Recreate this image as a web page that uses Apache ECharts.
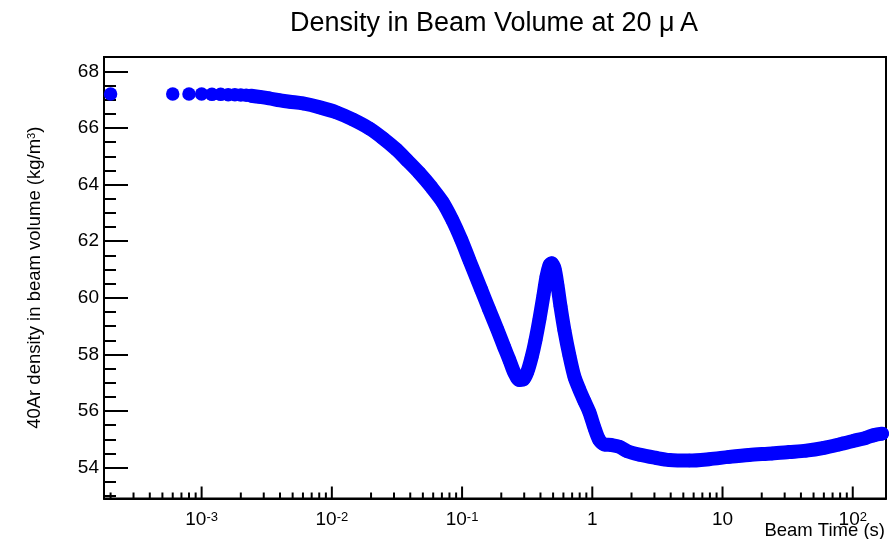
<!DOCTYPE html>
<html><head><meta charset="utf-8">
<script src="https://cdn.jsdelivr.net/npm/echarts@6/dist/echarts.min.js"></script>
<style>html,body{margin:0;padding:0;background:#fff}#c{width:894px;height:539px}</style>
</head><body><div id="c"></div>
<script>
// Beam time (s) and 40Ar density (kg/m^3)
const timeS = [2e-4, 6e-4, 8e-4, 1e-3, 1.2e-3, 1.4e-3, 1.6e-3, 1.8e-3, 2e-3, 2.2e-3, 2.4e-3, 2.8e-3, 3.3e-3, 4e-3, 4.75e-3, 6e-3, 8.1e-3, 0.0109, 0.0145, 0.0195, 0.0245, 0.0313, 0.038, 0.047, 0.0584, 0.071, 0.0842, 0.0986, 0.114, 0.14, 0.161, 0.187, 0.211, 0.231, 0.252, 0.276, 0.296, 0.318, 0.342, 0.366, 0.393, 0.422, 0.445, 0.469, 0.486, 0.512, 0.54, 0.57, 0.611, 0.668, 0.73, 0.797, 0.87, 0.951, 1.04, 1.13, 1.24, 1.4, 1.61, 1.86, 2.3, 3.05, 3.9, 5.56, 7.91, 11.2, 16, 24, 32.5, 43.8, 60.2, 78.5, 102, 127, 146, 168];
const density = [67.2, 67.2, 67.2, 67.2, 67.19, 67.19, 67.18, 67.18, 67.17, 67.16, 67.14, 67.1, 67.05, 66.98, 66.93, 66.87, 66.73, 66.55, 66.3, 65.98, 65.65, 65.24, 64.85, 64.41, 63.9, 63.38, 62.75, 62.05, 61.32, 60.3, 59.6, 58.87, 58.25, 57.8, 57.35, 57.1, 57.12, 57.4, 57.9, 58.5, 59.25, 60.1, 60.75, 61.15, 61.22, 61.05, 60.45, 59.7, 58.85, 57.95, 57.2, 56.75, 56.35, 55.95, 55.4, 54.98, 54.82, 54.8, 54.74, 54.58, 54.46, 54.35, 54.27, 54.25, 54.3, 54.38, 54.45, 54.5, 54.55, 54.6, 54.7, 54.82, 54.95, 55.06, 55.15, 55.2];

// axis ranges and ticks
const xRange = [1.78e-4, 180];
const yRange = [52.91, 68.51];
const xMajorTicks = [1e-3, 1e-2, 1e-1, 1, 10, 100];
const xMinorTicks = [2e-4, 3e-4, 4e-4, 5e-4, 6e-4, 7e-4, 8e-4, 9e-4,
  2e-3, 3e-3, 4e-3, 5e-3, 6e-3, 7e-3, 8e-3, 9e-3,
  0.02, 0.03, 0.04, 0.05, 0.06, 0.07, 0.08, 0.09,
  0.2, 0.3, 0.4, 0.5, 0.6, 0.7, 0.8, 0.9,
  2, 3, 4, 5, 6, 7, 8, 9,
  20, 30, 40, 50, 60, 70, 80, 90];
const yMajorTicks = [54, 56, 58, 60, 62, 64, 66, 68];
const yMinorTicks = [53, 53.5, 54.5, 55, 55.5, 56.5, 57, 57.5, 58.5, 59, 59.5, 60.5, 61, 61.5, 62.5, 63, 63.5, 64.5, 65, 65.5, 66.5, 67, 67.5];

const titleText = 'Density in Beam Volume at 20 \u03bc\u2009A';
const xTitle = 'Beam Time (s)';
const yTitle = '{n|40Ar density in beam volume (kg/m}{s|3}{n|)}';
const lineStartTime = 2.4e-3;

const FONT = 'Liberation Sans, Arial, Helvetica, sans-serif';
const points = timeS.map((t, i) => [t, density[i]]);
const linePoints = points.filter(p => p[0] >= lineStartTime);

function xLabel(v) {
  const k = Math.round(Math.log10(v));
  if (Math.abs(v / Math.pow(10, k) - 1) > 1e-6) return '';
  if (k === 0) return '{b|1}';
  if (k === 1) return '{b|10}';
  return '{b|10}{s|' + k + '}';
}

function tickRenderer(len) {
  return function (params, api) {
    const p = api.coord([api.value(0), api.value(1)]);
    const bottom = params.coordSys.y + params.coordSys.height;
    return {
      type: 'line',
      shape: { x1: p[0], y1: bottom, x2: p[0], y2: bottom - len },
      style: { stroke: '#000', lineWidth: 2 }
    };
  };
}

const chart = echarts.init(document.getElementById('c'), null, { renderer: 'canvas' });
chart.setOption({
  animation: false,
  backgroundColor: '#fff',
  textStyle: { fontFamily: FONT },
  title: {
    text: titleText,
    left: 489, top: 5, textAlign: 'center',
    textStyle: { fontSize: 27, fontWeight: 'normal', color: '#000', fontFamily: FONT }
  },
  grid: {
    left: 104, right: 8, top: 57, bottom: 40.5,
    show: true, borderColor: '#000', borderWidth: 2, backgroundColor: 'transparent',
    containLabel: false, outerBoundsMode: 'none'
  },
  xAxis: [{
    type: 'log', logBase: 10, min: xRange[0], max: xRange[1], splitNumber: 6,
    axisLine: { show: true, onZero: false, lineStyle: { color: '#000', width: 2 } },
    axisTick: { show: false },
    minorTick: { show: false },
    splitLine: { show: false },
    axisLabel: {
      show: true, margin: 12, formatter: xLabel, color: '#000', hideOverlap: false,
      showMinLabel: true, showMaxLabel: true,
      rich: {
        b: { fontSize: 19, lineHeight: 19, padding: [6, 0, 0, 0], verticalAlign: 'bottom', color: '#000', fontFamily: FONT },
        s: { fontSize: 13, lineHeight: 13, padding: [0, 0, 12, 0], verticalAlign: 'top', color: '#000', fontFamily: FONT }
      }
    },
    name: xTitle, nameLocation: 'end', nameGap: -1, nameMoveOverlap: false,
    nameTextStyle: { fontSize: 18.5, color: '#000', align: 'right', verticalAlign: 'top', padding: [23, 0, 0, 0], fontFamily: FONT }
  }],
  yAxis: [{
    type: 'value', min: yRange[0], max: yRange[1],
    axisLine: { show: true, onZero: false, lineStyle: { color: '#000', width: 2 } },
    axisTick: { show: true, inside: true, length: 24, customValues: yMajorTicks, lineStyle: { color: '#000', width: 2 } },
    splitLine: { show: false },
    axisLabel: { show: true, margin: 5, customValues: yMajorTicks, fontSize: 19, color: '#000', fontFamily: FONT, hideOverlap: false },
    name: yTitle, nameLocation: 'middle', nameGap: 60, nameRotate: 90, nameMoveOverlap: false,
    nameTextStyle: {
      color: '#000', fontFamily: FONT,
      rich: {
        n: { fontSize: 18.5, lineHeight: 18, padding: [5, 0, 0, 0], verticalAlign: 'bottom', color: '#000', fontFamily: FONT },
        s: { fontSize: 11, lineHeight: 11, verticalAlign: 'top', color: '#000', fontFamily: FONT }
      }
    }
  }, {
    type: 'value', min: yRange[0], max: yRange[1], position: 'left',
    axisLine: { show: false },
    axisTick: { show: true, inside: true, length: 12, customValues: yMinorTicks, lineStyle: { color: '#000', width: 2 } },
    splitLine: { show: false },
    axisLabel: { show: false }
  }],
  series: [{
    type: 'line', data: linePoints, xAxisIndex: 0, yAxisIndex: 0,
    showSymbol: false, symbol: 'none', smooth: 0.3, clip: true,
    lineStyle: { color: '#0000ff', width: 14, cap: 'round', join: 'round' },
    z: 2, silent: true
  }, {
    type: 'scatter', data: points, xAxisIndex: 0, yAxisIndex: 0,
    symbol: 'circle', symbolSize: 13.5, clip: true,
    itemStyle: { color: '#0000ff', opacity: 1 },
    z: 3, silent: true
  }, {
    type: 'custom', xAxisIndex: 0, yAxisIndex: 0, silent: true, z: 5,
    data: xMajorTicks.map(v => [v, yRange[0]]),
    renderItem: tickRenderer(12)
  }, {
    type: 'custom', xAxisIndex: 0, yAxisIndex: 0, silent: true, z: 5,
    data: xMinorTicks.map(v => [v, yRange[0]]),
    renderItem: tickRenderer(6)
  }]
});
</script>
</body></html>
